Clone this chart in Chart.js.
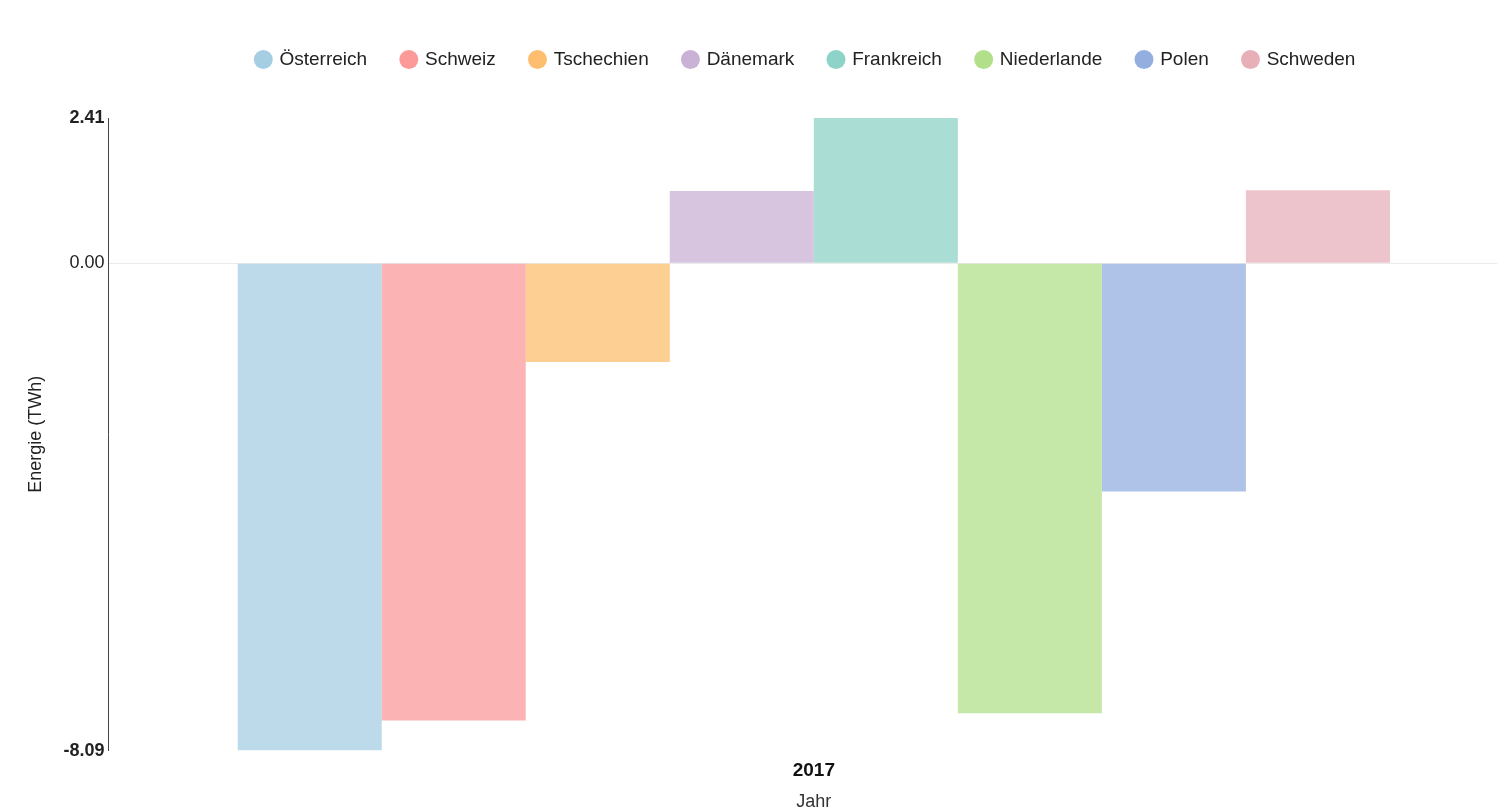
<!DOCTYPE html>
<html>
<head>
<meta charset="utf-8">
<script src="https://cdn.jsdelivr.net/npm/chart.js@4.4.0/dist/chart.umd.min.js"></script>
<style>
    body { margin: 0; background: #fff; overflow: hidden; }
    #chart_container { width: 1612px; height: 811px; }
</style>
</head>
<body>
<div id="chart_container"><canvas id="canvas1"></canvas></div>
<script>
const years = ['2017']
const countries = ['Österreich', 'Schweiz', 'Tschechien', 'Dänemark', 'Frankreich', 'Niederlande', 'Polen', 'Schweden']
const values = [-8.09, -7.59, -1.64, 1.20, 2.41, -7.47, -3.79, 1.21]
const colors = ['#a6cee3', '#fb9a99', '#fdbf6f', '#cab2d6', '#8ed3c7', '#b2df8a', '#94aee0', '#e7b0b9']
const y_ticks = [-8.09, 0, 2.41]

const fontFamily = '"Liberation Sans", Arial, sans-serif'

const withAlpha = (hex, a) => {
    let n = parseInt(hex.slice(1), 16)
    return `rgba(${n >> 16}, ${(n >> 8) & 255}, ${n & 255}, ${a})`
}

// give the legend some extra room underneath
const legendSpacer = {
    id: 'legendSpacer',
    beforeInit(chart) {
        const fit = chart.legend.fit
        chart.legend.fit = function () {
            fit.bind(this)()
            this.height += 39
        }
    }
}

const datasets = countries.map((name, i) => ({
    label: name,
    data: [values[i]],
    backgroundColor: withAlpha(colors[i], 0.75),
    borderWidth: 0,
    categoryPercentage: 0.817,
    barPercentage: 1,
}))

new Chart(document.getElementById('canvas1'), {
    type: 'bar',
    data: {
        labels: years,
        datasets: datasets,
    },
    plugins: [legendSpacer],
    options: {
        responsive: true,
        maintainAspectRatio: false,
        animation: false,
        layout: { padding: { top: 15, left: 0, right: 0, bottom: -2 } },
        plugins: {
            tooltip: { enabled: false },
            legend: {
                position: 'top',
                labels: {
                    usePointStyle: true,
                    pointStyle: 'circle',
                    boxWidth: 13.4,
                    boxHeight: 13.4,
                    padding: 35,
                    color: '#222',
                    font: { family: fontFamily, size: 19 },
                    generateLabels: (chart) => {
                        let items = Chart.defaults.plugins.legend.labels.generateLabels(chart)
                        items.forEach((item, i) => {
                            item.fillStyle = colors[i]
                            item.strokeStyle = colors[i]
                            item.lineWidth = 0
                        })
                        return items
                    }
                }
            }
        },
        scales: {
            x: {
                grid: { display: false, drawTicks: false },
                border: { display: false },
                ticks: {
                    color: '#111',
                    padding: 9,
                    font: { family: fontFamily, size: 19, weight: 'bold' }
                },
                title: {
                    display: true,
                    text: 'Jahr',
                    color: '#333',
                    padding: { top: 0, bottom: 0 },
                    font: { family: fontFamily, size: 18 }
                }
            },
            y: {
                min: y_ticks[0],
                max: y_ticks[y_ticks.length - 1],
                afterBuildTicks: (scale) => {
                    scale.ticks = y_ticks.map(v => ({ value: v }))
                },
                grid: {
                    drawTicks: false,
                    color: (ctx) => ctx.tick && ctx.tick.value === 0 ? '#ebebeb' : 'rgba(0,0,0,0)',
                },
                border: { display: true, color: '#444', width: 1 },
                ticks: {
                    padding: 4,
                    color: '#222',
                    callback: (v) => Number(v).toFixed(2),
                    font: (ctx) => ({
                        family: fontFamily,
                        size: 18,
                        weight: ctx.tick && ctx.tick.value === 0 ? 'normal' : 'bold'
                    })
                },
                title: {
                    display: true,
                    text: 'Energie (TWh)',
                    color: '#222',
                    padding: { top: 25, bottom: 13 },
                    font: { family: fontFamily, size: 18 }
                }
            },
            yRight: {
                position: 'right',
                display: true,
                min: y_ticks[0],
                max: y_ticks[y_ticks.length - 1],
                grid: { display: false },
                border: { display: false },
                ticks: { display: false },
                afterFit: (scale) => { scale.width = 93 }
            }
        }
    }
})
</script>
</body>
</html>
